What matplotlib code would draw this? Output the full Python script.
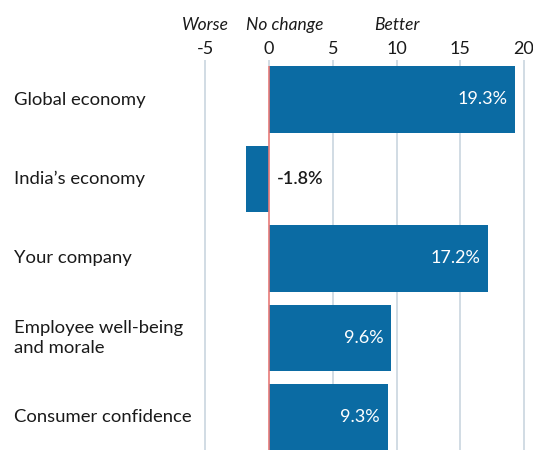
import matplotlib
matplotlib.use("Agg")
import matplotlib.pyplot as plt

plt.rcParams['font.family'] = ['Lato', 'DejaVu Sans']

categories = ["Global economy", "India\u2019s economy", "Your company",
              "Employee well-being\nand morale", "Consumer confidence"]
values = [19.3, -1.8, 17.2, 9.6, 9.3]
ticks = [-5, 0, 5, 10, 15, 20]
tick_labels = ["-5", "0", "5", "10", "15", "20"]

W, H = 533, 450
fig = plt.figure(figsize=(W / 100, H / 100), dpi=100)

# axes span in pixels
x0, x1 = 200, 533
y_top, y_bot = 66, 450
ax = fig.add_axes([x0 / W, 1 - y_bot / H, (x1 - x0) / W, (y_bot - y_top) / H])

bar_color = "#0b6ba3"
grid_color = "#c9d5df"
zero_color = "#e87a78"
text_color = "#1a1a1a"

ypos = list(range(len(categories)))
ax.barh(ypos, values, height=0.84, color=bar_color, zorder=2)

ax.set_xlim(-5.41, 20.7)
ax.set_ylim(4.41, -0.42)

for t in ticks:
    if t == 0:
        continue
    ax.axvline(t, color=grid_color, lw=1.2, zorder=1)
ax.axvline(0, color=zero_color, lw=1.2, zorder=3)

ax.set_xticks(ticks)
ax.set_xticklabels(tick_labels)
ax.xaxis.tick_top()
ax.tick_params(axis="x", length=4.5, width=1.2, color=grid_color, pad=2.2,
               labelsize=13, labelcolor=text_color)
for tk in ax.xaxis.get_major_ticks():
    if tk.get_loc() == 0:
        tk.tick2line.set_color(zero_color)
ax.set_yticks([])
for s in ax.spines.values():
    s.set_visible(False)

# category labels at the far left
for i, c in enumerate(categories):
    fig.text(14 / W, 1 - (99.5 + i * 79.5) / H, c, ha="left", va="center",
             fontsize=13.3, color=text_color, linespacing=1.25)

# value labels
for i, v in enumerate(values):
    label = f"{v:.1f}%"
    if v > 0:
        ax.text(v - 0.6, i, label, ha="right", va="center", color="white",
                fontsize=13, zorder=4)
    else:
        ax.text(0.6, i, label, ha="left", va="center", color=text_color,
                fontsize=13, fontweight="semibold", zorder=4)

# direction headers
hdr_y = (y_bot - 25) / (y_bot - y_top)
for xv, txt in [(-5, "Worse"), (1.25, "No change"), (10, "Better")]:
    ax.text(xv, hdr_y, txt, transform=ax.get_xaxis_transform(),
            ha="center", va="center", fontsize=12.5, style="italic",
            color=text_color)

fig.savefig("out.png", dpi=100)
